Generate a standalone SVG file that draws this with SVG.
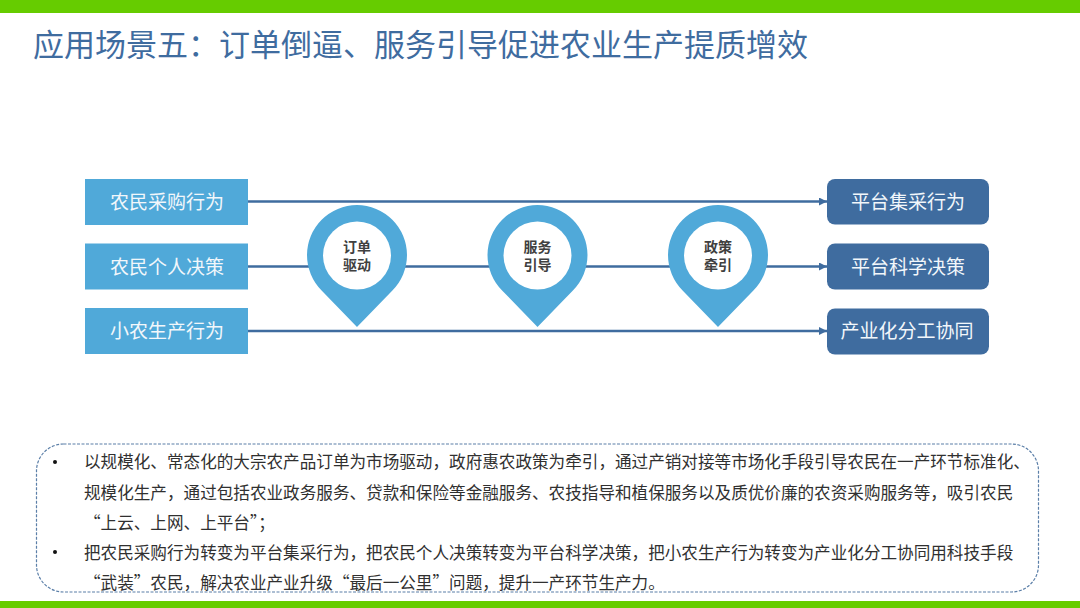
<svg xmlns="http://www.w3.org/2000/svg" width="1080" height="608" viewBox="0 0 1080 608">
<style>
text{font-family:"Noto Sans CJK SC","Noto Sans",sans-serif}
.bar{fill:#66cc00}
.left{fill:#50a9d9}
.right{fill:#3f6c9f}
.lbl{font-size:19px;fill:#f2f7fb;text-anchor:middle}
.pin{fill:#50a9d9}
.hole{fill:#fff}
.pint{font-size:14px;font-weight:700;fill:#404040;text-anchor:middle}
.line{stroke:#3f6c9f;stroke-width:2.4;fill:none}
.body{font-size:16.6px;fill:#303030}
.dot{fill:#111}
</style>
<defs>
<marker id="arr" markerUnits="userSpaceOnUse" markerWidth="9" markerHeight="8" refX="8" refY="4" orient="auto"><path d="M0 0L8 4L0 8Z" fill="#3f6c9f"/></marker>
<path id="pinshape" d="M-35.4 35.4A50 50 0 1 1 35.4 35.4L0 72Z"/>
</defs>
<rect width="1080" height="608" fill="#fff"/>
<rect class="bar" width="1080" height="13"/>
<rect class="bar" y="601" width="1080" height="7"/>
<text x="33" y="56" font-size="31" fill="#3f6c9f">应用场景五&#xFF1A;订单倒逼、服务引导促进农业生产提质增效</text>
<g id="connectors">
<line class="line" x1="248" y1="201.5" x2="827" y2="201.5" marker-end="url(#arr)"/>
<line class="line" x1="248" y1="266.5" x2="827" y2="266.5" marker-end="url(#arr)"/>
<line class="line" x1="248" y1="331" x2="827" y2="331" marker-end="url(#arr)"/>
</g>
<g id="n-left1"><rect class="left" x="85" y="179" width="163" height="46"/><text class="lbl" x="167" y="209">农民采购行为</text></g>
<g id="n-left2"><rect class="left" x="85" y="243.500" width="163" height="46"/><text class="lbl" x="167" y="274">农民个人决策</text></g>
<g id="n-left3"><rect class="left" x="85" y="308" width="163" height="46"/><text class="lbl" x="167" y="338">小农生产行为</text></g>
<g id="n-right1"><rect class="right" x="827" y="179" width="162" height="45.500" rx="8"/><text class="lbl" x="908" y="209">平台集采行为</text></g>
<g id="n-right2"><rect class="right" x="827" y="243.500" width="162" height="46" rx="8"/><text class="lbl" x="908" y="274">平台科学决策</text></g>
<g id="n-right3"><rect class="right" x="827" y="308.500" width="162" height="46" rx="8"/><text class="lbl" x="907" y="338">产业化分工协同</text></g>
<g id="n-pin1"><use href="#pinshape" class="pin" x="357" y="255"/><circle class="hole" cx="357" cy="255.500" r="34"/><text class="pint" x="357" y="252">订单</text><text class="pint" x="357" y="270">驱动</text></g>
<g id="n-pin2"><use href="#pinshape" class="pin" x="537.500" y="255"/><circle class="hole" cx="537.500" cy="255.500" r="34"/><text class="pint" x="537.500" y="252">服务</text><text class="pint" x="537.500" y="270">引导</text></g>
<g id="n-pin3"><use href="#pinshape" class="pin" x="718" y="255"/><circle class="hole" cx="718" cy="255.500" r="34"/><text class="pint" x="718" y="252">政策</text><text class="pint" x="718" y="270">牵引</text></g>
<g id="n-note">
<rect x="36.500" y="444" width="1002" height="148" rx="27" fill="#fff" stroke="#5b7fa8" stroke-width="1.200" stroke-dasharray="3 1.500"/>
<circle class="dot" cx="55" cy="462" r="2"/>
<circle class="dot" cx="55" cy="552" r="2"/>
<text class="body" x="84" y="468">以规模化、常态化的大宗农产品订单为市场驱动&#xFF0C;政府惠农政策为牵引&#xFF0C;通过产销对接等市场化手段引导农民在一产环节标准化、</text>
<text class="body" x="84" y="499">规模化生产&#xFF0C;通过包括农业政务服务、贷款和保险等金融服务、农技指导和植保服务以及质优价廉的农资采购服务等&#xFF0C;吸引农民</text>
<text class="body" x="84" y="529">“上云、上网、上平台”&#xFF1B;</text>
<text class="body" x="84" y="559">把农民采购行为转变为平台集采行为&#xFF0C;把农民个人决策转变为平台科学决策&#xFF0C;把小农生产行为转变为产业化分工协同用科技手段</text>
<text class="body" x="84" y="589">“武装”农民&#xFF0C;解决农业产业升级“最后一公里”问题&#xFF0C;提升一产环节生产力。</text>
</g>
</svg>
